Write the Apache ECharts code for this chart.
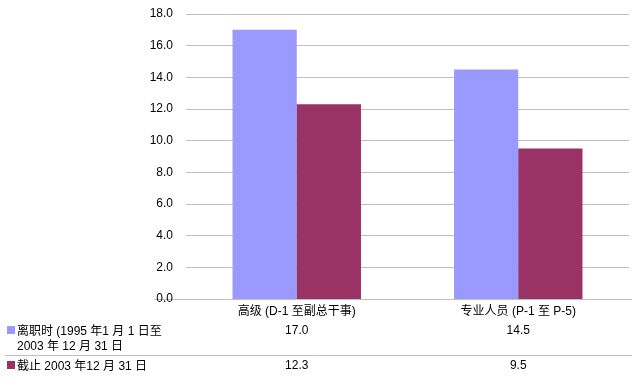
<!DOCTYPE html>
<html><head><meta charset="utf-8">
<script src="https://cdn.jsdelivr.net/npm/echarts@6/dist/echarts.min.js"></script>
<style>html,body{margin:0;padding:0;background:#fff}#c{width:632px;height:388px}</style>
</head><body><div id="c"></div>
<script>
var categories = ['高级 (D-1 至副总干事)', '专业人员 (P-1 至 P-5)'];
var seriesNames = ['离职时 (1995 年1 月 1 日至\n2003 年 12 月 31 日', '截止 2003 年12 月 31 日'];
var separated = [17.0, 14.5];
var current = [12.3, 9.5];
var colors = ['#9999FF', '#993366'];
var FONT = '"Liberation Sans", Arial, "Noto Sans CJK SC", sans-serif';

var chart = echarts.init(document.getElementById('c'), null, {renderer: 'canvas'});
var option = {
  animation: false,
  textStyle: {fontFamily: FONT},
  grid: {left: 186, right: 3, top: 14, bottom: 89, containLabel: false},
  xAxis: {
    type: 'category', data: categories,
    axisLine: {show: false}, axisTick: {show: false},
    axisLabel: {color: '#000', fontSize: 12, fontFamily: FONT, margin: 7}
  },
  yAxis: {
    type: 'value', min: 0, max: 18, interval: 2,
    axisLine: {show: false}, axisTick: {show: false},
    axisLabel: {color: '#000', fontSize: 12, fontFamily: FONT, margin: 13,
      formatter: function (v) { return v.toFixed(1); }},
    splitLine: {lineStyle: {color: '#c0c0c0', width: 1}}
  },
  series: [
    {type: 'bar', name: seriesNames[0], data: separated, itemStyle: {color: colors[0]}, barGap: '0%', barCategoryGap: '42%'},
    {type: 'bar', name: seriesNames[1], data: current, itemStyle: {color: colors[1]}, barGap: '0%', barCategoryGap: '42%'}
  ]
};
chart.setOption(option);

var y0 = chart.convertToPixel({yAxisIndex: 0}, 0);
var graphics = [];
graphics.push({type: 'line', shape: {x1: 154, y1: y0 + 0.5, x2: 632, y2: y0 + 0.5}, style: {stroke: '#c0c0c0', lineWidth: 1}});
graphics.push({type: 'line', shape: {x1: 5, y1: 355.5, x2: 632, y2: 355.5}, style: {stroke: '#c0c0c0', lineWidth: 1}});
var rowY = [331, 366];
var rows = [separated, current];
for (var r = 0; r < 2; r++) {
  graphics.push({type: 'rect', shape: {x: 7, y: rowY[r] - 5, width: 8, height: 8}, style: {fill: colors[r]}});
  graphics.push({type: 'text', x: 17, y: rowY[r] - 7, style: {text: seriesNames[r], fill: '#000', font: '12px ' + FONT, lineHeight: 15, verticalAlign: 'top'}});
  for (var i = 0; i < categories.length; i++) {
    var cx = chart.convertToPixel({xAxisIndex: 0}, categories[i]);
    graphics.push({type: 'text', x: cx, y: rowY[r], style: {text: rows[r][i].toFixed(1), fill: '#000', font: '12px ' + FONT, align: 'center', verticalAlign: 'middle'}});
  }
}
chart.setOption({graphic: graphics});
</script></body></html>
